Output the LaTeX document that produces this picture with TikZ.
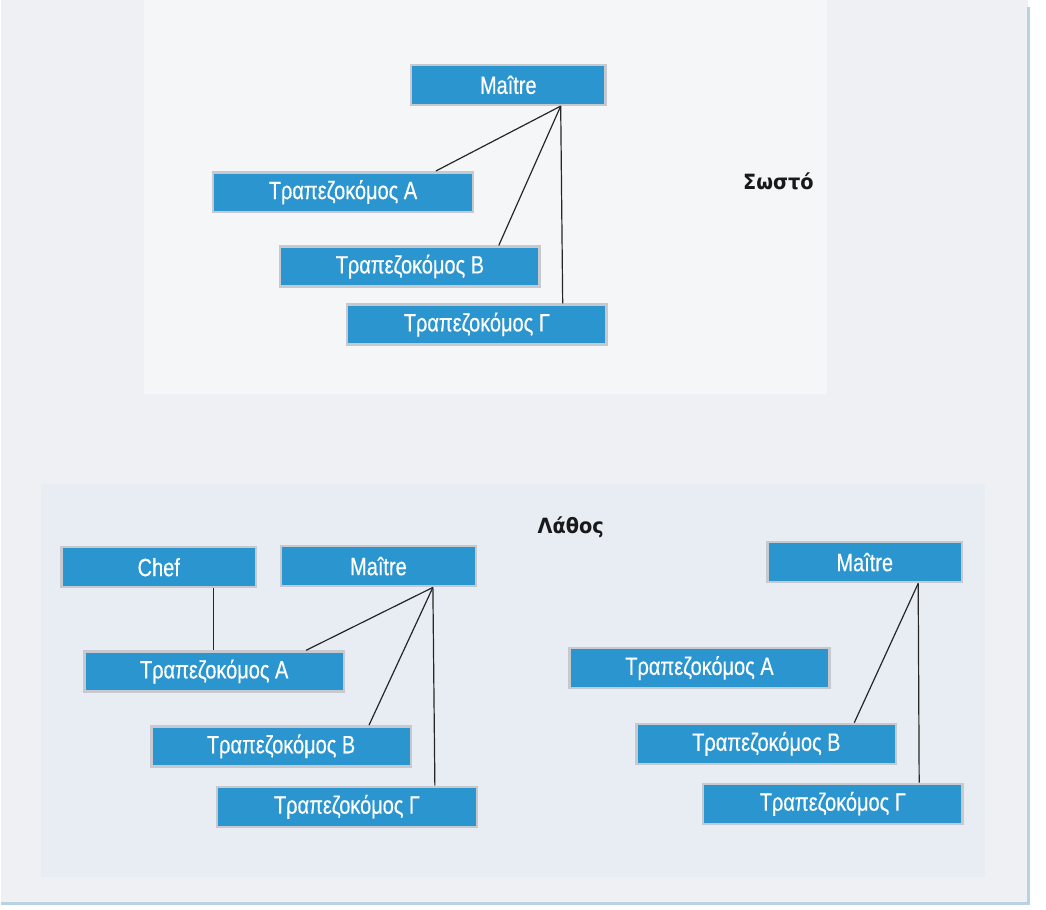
\documentclass[tikz,border=0pt]{standalone}
\usepackage{fontspec}
\setmainfont{Liberation Sans}
\newfontfamily\boxfont[FakeStretch=0.8,FakeBold=0.4]{Liberation Sans}
\newfontfamily\headfont[FakeStretch=0.92]{DejaVu Sans Bold}
\definecolor{boxblue}{HTML}{2B95CF}
\definecolor{boxedge}{HTML}{C8C9CF}
\definecolor{pagebg}{HTML}{EEF0F3}
\definecolor{toppanel}{HTML}{F4F6F8}
\definecolor{lowpanel}{HTML}{E7EDF3}
\definecolor{rule}{HTML}{B9D2E2}
\tikzset{
  rolebox/.style={rectangle, fill=boxblue, draw=boxedge, line width=2.5pt,
    text=white, font=\boxfont\fontsize{25}{28}\selectfont,
    minimum height=40pt, inner sep=0pt},
  headbox/.style={rolebox, minimum width=195pt},
  staffbox/.style={rolebox, minimum width=260pt},
  link/.style={draw=black!85, line width=1.2pt},
  caption/.style={font=\headfont\fontsize{21}{24}\selectfont, text=black!90}
}
\begin{document}
\begin{tikzpicture}[x=1pt,y=-1pt]
  % page and panels
  \fill[white] (0,0) rectangle (1046,911);
  \fill[pagebg] (0,0) rectangle (1028,905);
  \fill[toppanel] (143,0) rectangle (827,395);
  \fill[lowpanel] (40,485) rectangle (985,878);
  \draw[rule, line width=3pt] (1028,7) -- (1028,905) -- (0,905);

  % correct structure
  \node[headbox]  (mT) at (507.5,85)  {Maître};
  \node[staffbox] (aT) at (342,192.5) {Τραπεζοκόμος Α};
  \node[staffbox] (bT) at (409,267)   {Τραπεζοκόμος Β};
  \node[staffbox] (gT) at (476,325)   {Τραπεζοκόμος Γ};
  \node[caption]  (ok) at (778,182)   {Σωστό};
  \draw[link] ([xshift=52.5pt]mT.south) -- ([xshift=93pt]aT.north);
  \draw[link] ([xshift=52.5pt]mT.south) -- ([xshift=89pt]bT.north);
  \draw[link] ([xshift=52.5pt]mT.south) -- ([xshift=86pt]gT.north);

  % wrong structure
  \node[caption]  (bad) at (570,528) {Λάθος};

  \node[headbox]  (chef) at (157.5,568) {Chef};
  \node[headbox]  (mL)   at (377.5,567) {Maître};
  \node[staffbox] (aL)   at (213,672.5) {Τραπεζοκόμος Α};
  \node[staffbox] (bL)   at (280,747.5) {Τραπεζοκόμος Β};
  \node[staffbox] (gL)   at (346,808)   {Τραπεζοκόμος Γ};
  \draw[link] ([xshift=54.5pt]chef.south) -- ([xshift=-1pt]aL.north);
  \draw[link] ([xshift=54.5pt]mL.south) -- ([xshift=92pt]aL.north);
  \draw[link] ([xshift=54.5pt]mL.south) -- ([xshift=88pt]bL.north);
  \draw[link] ([xshift=54.5pt]mL.south) -- ([xshift=88pt]gL.north);

  \node[headbox]  (mR) at (864.5,563) {Maître};
  \node[staffbox] (aR) at (699,669)   {Τραπεζοκόμος Α};
  \node[staffbox] (bR) at (766,745)   {Τραπεζοκόμος Β};
  \node[staffbox] (gR) at (832.5,805) {Τραπεζοκόμος Γ};
  \draw[link] ([xshift=53.5pt]mR.south) -- ([xshift=88pt]bR.north);
  \draw[link] ([xshift=53.5pt]mR.south) -- ([xshift=86.5pt]gR.north);
\end{tikzpicture}
\end{document}
